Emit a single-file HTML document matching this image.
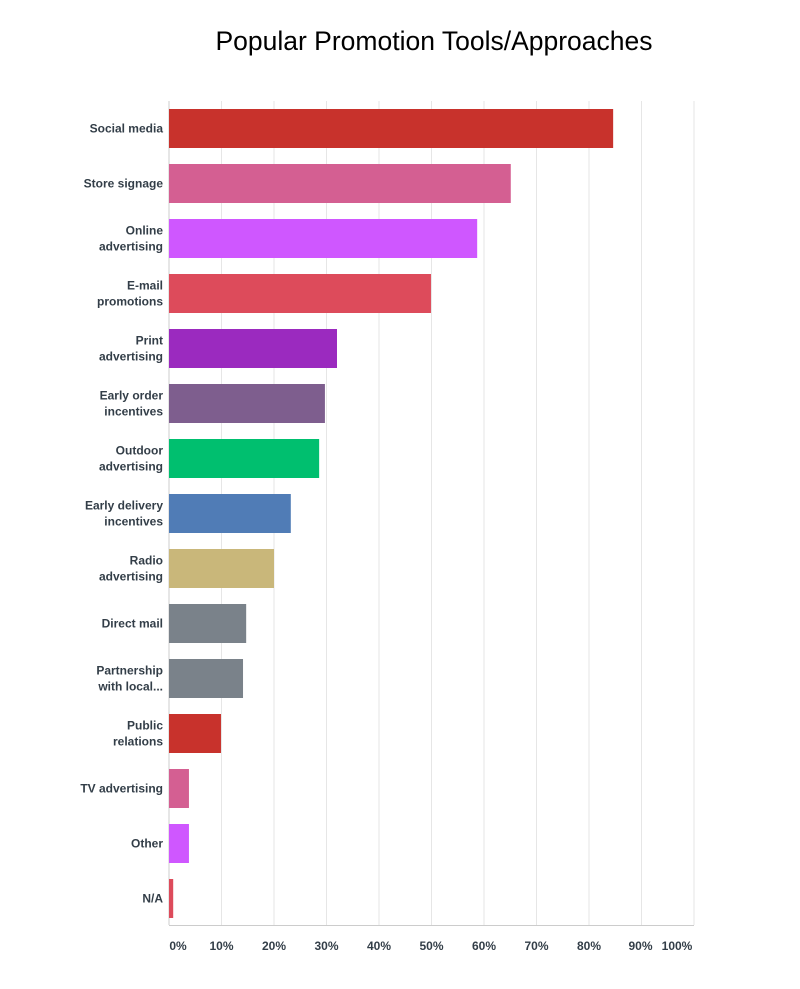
<!DOCTYPE html>
<html><head><meta charset="utf-8"><style>
body{margin:0;background:#fff;font-family:"Liberation Sans",sans-serif}
svg text{font-family:"Liberation Sans",sans-serif}
</style></head><body>
<svg width="800" height="984">
<text x="434" y="50" text-anchor="middle" font-size="26.5" fill="#000">Popular Promotion Tools/Approaches</text>
<g id="grid"></g><g id="bars"></g><g id="labels"></g><g id="ticks"></g>
</svg>
<script>
const categories=[["Social media"],["Store signage"],["Online","advertising"],["E-mail","promotions"],["Print","advertising"],["Early order","incentives"],["Outdoor","advertising"],["Early delivery","incentives"],["Radio","advertising"],["Direct mail"],["Partnership","with local..."],["Public","relations"],["TV advertising"],["Other"],["N/A"]];
const values=[84.6,65.1,58.7,49.9,32,29.7,28.6,23.2,20,14.7,14.1,9.9,3.8,3.8,0.8];
const colors=["#c8322c","#d45f92","#cf57ff","#dd4b5b","#9b2abf","#7e5e8e","#00bf6f","#507cb6","#c9b77a","#7a828a","#7a828a","#c8322c","#d45f92","#cf57ff","#dd4b5b"];
const tickLabels=["0%","10%","20%","30%","40%","50%","60%","70%","80%","90%","100%"];
const NS="http://www.w3.org/2000/svg";
const x0=169,x1=694,top0=101,rowH=55;
const xs=v=>x0+(x1-x0)*v/100;
const ys=i=>top0+i*rowH;
function mk(t,a,p){const e=document.createElementNS(NS,t);for(const k in a)e.setAttribute(k,a[k]);document.getElementById(p).appendChild(e);return e;}
for(let i=0;i<=10;i++){
 const g=mk("line",{x1:xs(i*10),x2:xs(i*10),y1:top0,y2:925,stroke:i==0?"#ccc":"#e6e6e6","stroke-width":1},"grid");
 
 
 let tx=xs(i*10); if(i==0)tx+=9; if(i==10)tx-=17; if(i==9)tx-=1;
 const t=mk("text",{x:tx,y:950,"text-anchor":"middle","font-size":"12","font-weight":"bold",fill:"#333e48"},"ticks");
 t.textContent=tickLabels[i];
 
 
}
const ax=mk("line",{x1:x0,x2:x1,y1:925.5,y2:925.5,stroke:"#ccc"},"grid");


values.forEach((v,i)=>{
 const b=mk("rect",{x:x0,y:ys(i)+8,width:xs(v)-x0,height:39,fill:colors[i]},"bars");
 
 
 const lines=categories[i];const cy=ys(i)+27.5;
 lines.forEach((l,j)=>{
  const t=mk("text",{x:163,y:cy+4-(lines.length-1)*8+j*16,"text-anchor":"end","font-size":"12","font-weight":"bold",fill:"#333e48"},"labels");
  t.textContent=l;
  
  
 });
});
</script>
</body></html>
